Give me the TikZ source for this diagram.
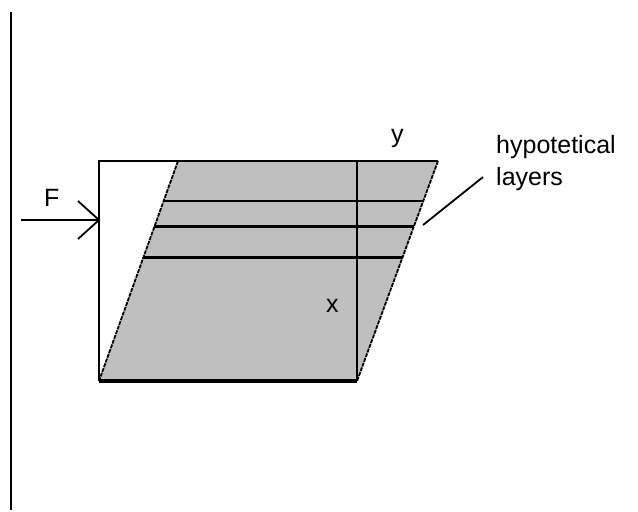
\documentclass[tikz,border=0pt]{standalone}
\usepackage{fontspec}
\setmainfont{Liberation Sans}
\usetikzlibrary{calc}
\begin{document}
\begin{tikzpicture}[x=1pt,y=-1pt,
  lbl/.style={inner sep=0pt,anchor=base west,font=\fontsize{25}{29}\selectfont},
  edge/.style={line width=2.6pt},
  thin/.style={line width=1.8pt}]
\useasboundingbox (0,0) rectangle (638,512);
% parallelogram (sheared block)
\coordinate (TL) at (178,161);
\coordinate (TR) at (438,161);
\coordinate (BR) at (357,381);
\coordinate (BL) at (99,381);
\fill[fill=black!25] (TL) -- (TR) -- (BR) -- (BL) -- cycle;
\draw[thin,dash pattern=on 4pt off 1pt] (TL) -- (BL);
\draw[thin,dash pattern=on 4pt off 1pt] (TR) -- (BR);
% original square
\coordinate (SQTL) at (99,161);
\coordinate (SQTR) at (357,161);
\draw[edge] (BL) -- (SQTL) -- (TR);
\draw[edge] (SQTR) -- (BR);
\draw[line width=3.8pt] (BL) -- (BR);
% layers
\draw[edge] ($(TL)!0.181!(BL)$) -- ($(TR)!0.181!(BR)$);
\draw[edge] ($(TL)!0.299!(BL)$) -- ($(TR)!0.299!(BR)$);
\draw[edge] ($(TL)!0.439!(BL)$) -- ($(TR)!0.439!(BR)$);
% left vertical line
\coordinate (V1) at (11,12);
\coordinate (V2) at (11,510);
\draw[edge] (V1) -- (V2);
% force arrow
\coordinate (A1) at (21,220);
\coordinate (A2) at (99,220);
\coordinate (H1) at (78,201);
\coordinate (H2) at (78,239);
\draw[thin] (A1) -- (A2);
\draw[thin] (H1) -- (A2) -- (H2);
\node[lbl] (F) at (44,206) {F};
\node[lbl] (y) at (391,142) {y};
\node[lbl] (x) at (326,312) {x};
\node[lbl] (h1) at (496,153) {hypotetical};
\node[lbl] (h2) at (496,185) {layers};
\coordinate (P1) at (423,225);
\coordinate (P2) at (483,177);
\draw[thin] (P1) -- (P2);
\end{tikzpicture}
\end{document}
